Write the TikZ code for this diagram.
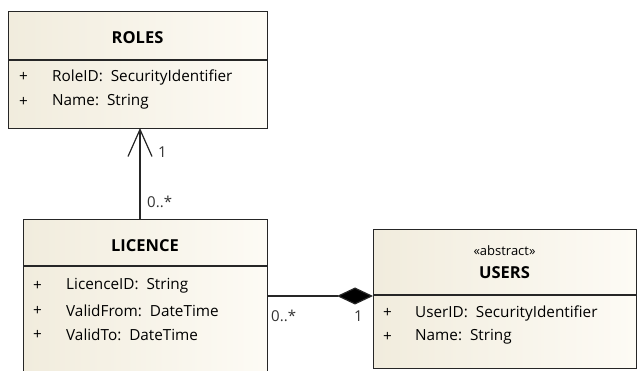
\documentclass[tikz,border=0pt]{standalone}
\usepackage{fontspec}
\setmainfont{Open Sans}
\usetikzlibrary{arrows.meta,shapes.geometric}
\definecolor{boxL}{HTML}{F1ECDD}
\definecolor{boxR}{HTML}{FDFBF5}
\definecolor{lbl}{HTML}{333333}
\tikzset{
  classbox/.style={draw=black!85, line width=1.2pt, left color=boxL, right color=boxR, anchor=north west, inner sep=0pt},
  divider/.style={draw=black!85, line width=1.2pt},
  title/.style={font=\fontsize{16.5}{18}\selectfont\bfseries, inner sep=0pt},
  stereo/.style={font=\fontsize{13}{15}\selectfont, inner sep=0pt},
  attr/.style={font=\fontsize{15.3}{17}\selectfont, anchor=west, inner sep=0pt},
  mult/.style={font=\fontsize{15}{17}\selectfont, text=lbl, inner sep=0pt},
  conn/.style={draw=black!85, line width=1.2pt},
}
\begin{document}
\begin{tikzpicture}[x=1pt,y=-1pt]
\clip (0,0) rectangle (637,371);
\fill[white] (0,0) rectangle (637,371);
% ROLES
\node[classbox, minimum width=259pt, minimum height=117pt] (roles) at (8,11) {};
\draw[divider] (8,60) -- (267,60);
\node[title] (rolesT) at (137.5,38) {ROLES};
\node[attr] (r1p) at (19,77) {+};
\node[attr] (r1) at (52,77) {RoleID:\ \ SecurityIdentifier};
\node[attr] (r2p) at (19,102) {+};
\node[attr] (r2) at (52,102) {Name:\ \ String};
% LICENCE
\node[classbox, minimum width=244pt, minimum height=170pt] (lic) at (23,219) {};
\draw[divider] (23,266) -- (267,266);
\node[title] (licT) at (145,246) {LICENCE};
\node[attr] (l1p) at (33,286) {+};
\node[attr] (l1) at (66,286) {LicenceID:\ \ String};
\node[attr] (l2p) at (33,311) {+};
\node[attr] (l2) at (66,311) {ValidFrom:\ \ DateTime};
\node[attr] (l3p) at (33,335) {+};
\node[attr] (l3) at (66,335) {ValidTo:\ \ DateTime};
% USERS
\node[classbox, minimum width=263pt, minimum height=139pt] (users) at (373,229) {};
\draw[divider] (373,295) -- (636,295);
\node[stereo] (usersS) at (504.5,251) {«abstract»};
\node[title] (usersT) at (504.5,273) {USERS};
\node[attr] (u1p) at (383,313) {+};
\node[attr] (u1) at (415,313) {UserID:\ \ SecurityIdentifier};
\node[attr] (u2p) at (383,337) {+};
\node[attr] (u2) at (415,337) {Name:\ \ String};
% associations
\coordinate (licTop) at (140,219);
\coordinate (rolesBot) at (140,128);
\draw[conn, -{Straight Barb[length=27pt, width=24pt, line width=1.2pt]}] (licTop) -- (rolesBot);
\node[mult, anchor=west] (m1) at (158,152) {1};
\node[mult, anchor=west] (m2) at (147,202) {0..*};
\coordinate (licRight) at (267,296);
\coordinate (usersLeft) at (373,296);
\draw[conn, -{Diamond[length=36pt, width=17pt, fill=black]}] (licRight) -- (usersLeft);
\node[mult, anchor=west] (m3) at (271,316) {0..*};
\node[mult, anchor=east] (m4) at (363,316) {1};
\end{tikzpicture}
\end{document}
